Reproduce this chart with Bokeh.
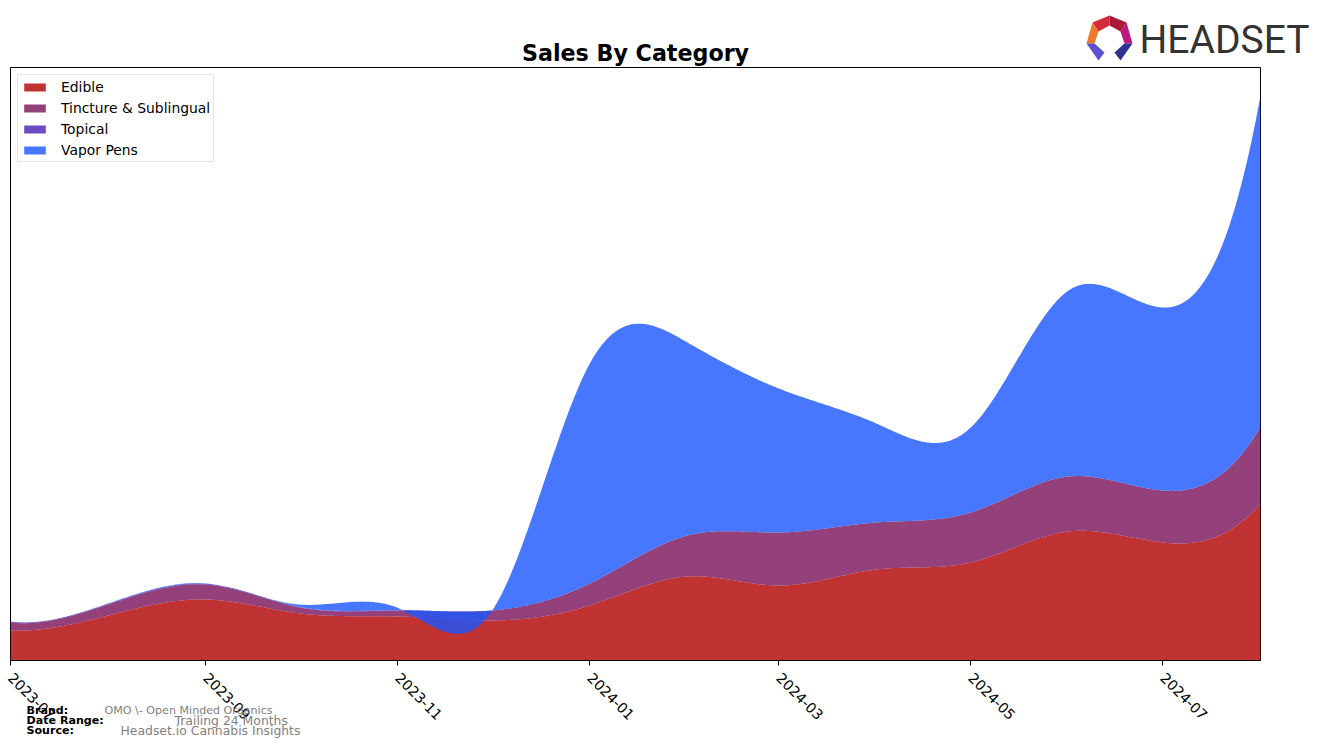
import numpy as np
import pandas as pd
import math
from bokeh.plotting import figure
from bokeh.layouts import column
from bokeh.models import Range1d, FixedTicker, DatetimeTickFormatter, ColumnDataSource, Column
from bokeh.embed import file_html
from bokeh.resources import INLINE
from bokeh.core.properties import value

# ---------------- data (monthly, arbitrary sales units) ----------------
months = ["2023-07-01", "2023-08-01", "2023-09-01", "2023-10-01", "2023-11-01",
          "2023-12-01", "2024-01-01", "2024-02-01", "2024-03-01", "2024-04-01",
          "2024-05-01", "2024-06-01", "2024-07-01", "2024-08-01"]
edible = [30, 45, 61, 47, 44, 40, 55, 84, 75, 91, 98, 129, 118, 157]
tincture = [8, 11, 15, 6, 6, 10, 22, 41, 53, 47, 50, 55, 52, 77]
topical = [0.7, 0.7, 0.7, 0.5, 0.3, 0, 0, 0, 0, 0, 0, 0, 0, 0]
vapor_pens = [0.3, 0.3, 0.3, 2.4, 2.3, 0, 220, 193, 144, 99, 85, 186, 183, 331]

categories = ["Edible", "Tincture & Sublingual", "Topical", "Vapor Pens"]
colors = ["#b20000", "#79105a", "#461fb3", "#1a55ff"]
fill_alpha = 0.8
tick_dates = ["2023-07-01", "2023-09-01", "2023-11-01", "2024-01-01",
              "2024-03-01", "2024-05-01", "2024-07-01"]
y_max = 593

title_text = "Sales By Category"
footer_keys = ["Brand:", "Date Range:", "Source:"]
footer_vals = ["OMO \\- Open Minded Organics", "Trailing 24 Months", "Headset.io Cannabis Insights"]

# ---------------- smoothing (not-a-knot cubic spline) ----------------
def spline(xk, yk, xs):
    xk = np.asarray(xk, float)
    yk = np.asarray(yk, float)
    n = len(xk)
    h = np.diff(xk)
    A = np.zeros((n, n))
    b = np.zeros(n)
    A[0, 0] = h[1]; A[0, 1] = -(h[0] + h[1]); A[0, 2] = h[0]
    for i in range(1, n - 1):
        A[i, i - 1] = h[i - 1]
        A[i, i] = 2 * (h[i - 1] + h[i])
        A[i, i + 1] = h[i]
        b[i] = 6 * ((yk[i + 1] - yk[i]) / h[i] - (yk[i] - yk[i - 1]) / h[i - 1])
    A[n - 1, n - 3] = h[n - 2]; A[n - 1, n - 2] = -(h[n - 3] + h[n - 2]); A[n - 1, n - 1] = h[n - 3]
    M = np.linalg.solve(A, b)
    idx = np.clip(np.searchsorted(xk, xs, side="right") - 1, 0, n - 2)
    x0 = xk[idx]; x1 = xk[idx + 1]; hh = x1 - x0
    return (M[idx] * (x1 - xs) ** 3 / (6 * hh) + M[idx + 1] * (xs - x0) ** 3 / (6 * hh)
            + (yk[idx] / hh - M[idx] * hh / 6) * (x1 - xs)
            + (yk[idx + 1] / hh - M[idx + 1] * hh / 6) * (xs - x0))

def to_ms(s):
    return float((pd.Timestamp(s) - pd.Timestamp("1970-01-01")) // pd.Timedelta(milliseconds=1))

xk_ms = np.array([to_ms(m) for m in months])
xs = np.linspace(xk_ms[0], xk_ms[-1], 900)

series = [edible, tincture, topical, vapor_pens]
smooth = [spline(xk_ms, s, xs) for s in series]

data = {"x": xs}
base = np.zeros_like(xs)
for i, s in enumerate(smooth):
    data[f"b{i}"] = base.copy()
    base = base + s
    data[f"t{i}"] = base.copy()
src = ColumnDataSource(data)

# ---------------- main figure ----------------
p = figure(width=1324, height=748, x_axis_type="datetime", y_axis_location=None,
           toolbar_location=None, output_backend="svg",
           x_range=Range1d(xk_ms[0], xk_ms[-1]), y_range=Range1d(0, y_max),
           min_border_left=10, min_border_right=64, min_border_top=67, min_border_bottom=88)
p.title.visible = False
p.background_fill_color = "white"
p.border_fill_color = "white"
p.outline_line_color = "black"
p.outline_line_width = 1
p.outline_line_alpha = 1
p.xgrid.visible = False
p.ygrid.visible = False

for i, (name, col) in enumerate(zip(categories, colors)):
    p.varea(x="x", y1=f"b{i}", y2=f"t{i}", source=src, fill_color=col,
            fill_alpha=fill_alpha, legend_label=name)

ax = p.xaxis[0]
ax.ticker = FixedTicker(ticks=[to_ms(d) for d in tick_dates])
ax.formatter = DatetimeTickFormatter(years="%Y-%m", months="%Y-%m", days="%Y-%m",
                                     hours="%Y-%m", minutes="%Y-%m")
ax.major_label_orientation = -math.pi / 4
ax.major_label_text_font = "DejaVu Sans"
ax.major_label_text_font_size = "14.2px"
ax.major_label_text_color = "black"
ax.axis_line_color = "black"
ax.major_tick_line_color = "black"
ax.major_tick_out = 5
ax.major_tick_in = 0
ax.minor_tick_line_color = None
ax.major_label_standoff = 10

lg = p.legend[0]
lg.location = "top_left"
lg.margin = 7
lg.padding = 3
lg.spacing = 4
lg.glyph_width = 27
lg.glyph_height = 10
lg.label_height = 17
lg.label_standoff = 13
lg.label_text_font = "DejaVu Sans"
lg.label_text_font_size = "13.9px"
lg.label_text_color = "black"
lg.border_line_color = "#cccccc"
lg.border_line_width = 1
lg.background_fill_alpha = 0.8

# ---------------- overlay figure (canvas pixel coordinates) for title/footer/logo ----------------
q = figure(width=1324, height=748, toolbar_location=None, output_backend="svg",
           x_range=Range1d(0, 1324), y_range=Range1d(748, 0),
           x_axis_location=None, y_axis_location=None,
           min_border=0, min_border_left=0, min_border_right=0,
           min_border_top=0, min_border_bottom=0)
q.title.visible = False
q.grid.visible = False
q.outline_line_color = None
q.background_fill_alpha = 0
q.border_fill_alpha = 0

def txt(xv, yv, t, size, color="black", bold=False, align="left", font="DejaVu Sans"):
    q.text(x=[xv], y=[yv], text=[t], text_font=value(font), text_font_size=value(size),
           text_color=color, text_font_style="bold" if bold else "normal",
           text_align=align, text_baseline="alphabetic")

txt(635, 52, title_text, "22.2px", bold=True, align="center")
for k, yy in zip(footer_keys, [709.5, 719.5, 729.7]):
    txt(26, yy, k, "11.1px", bold=True)
txt(104, 709.5, footer_vals[0], "11.1px", color="#808080")
txt(174, 719.5, footer_vals[1], "12.4px", color="#808080")
txt(120, 730, footer_vals[2], "12.4px", color="#808080")
txt(1139, 39, "HEADSET", "39px", color="#333333", font="Roboto")

logo_parts = [
    ([(1092, 22), (1109, 15), (1109, 25), (1098, 31)], "#d42a3c"),
    ([(1109, 15), (1126, 22), (1120, 31), (1109, 25)], "#a8193a"),
    ([(1126, 22), (1132, 43), (1124, 43), (1120, 31)], "#c0177f"),
    ([(1092, 22), (1098, 31), (1094, 43), (1086, 43)], "#f0782a"),
    ([(1086, 43), (1094, 43), (1104, 52), (1098, 60)], "#5a50d0"),
    ([(1124, 43), (1132, 43), (1120, 60), (1114, 52)], "#2e3192"),
]
q.patches(xs=[[x for x, _ in pts] for pts, _ in logo_parts],
          ys=[[y for _, y in pts] for pts, _ in logo_parts],
          fill_color=[c for _, c in logo_parts], line_color=None)

inner = Column(children=[q], margin=(-748, 0, 0, 0))
layout = column(p, inner, spacing=0)
open("out.html", "w").write(file_html(layout, INLINE))
